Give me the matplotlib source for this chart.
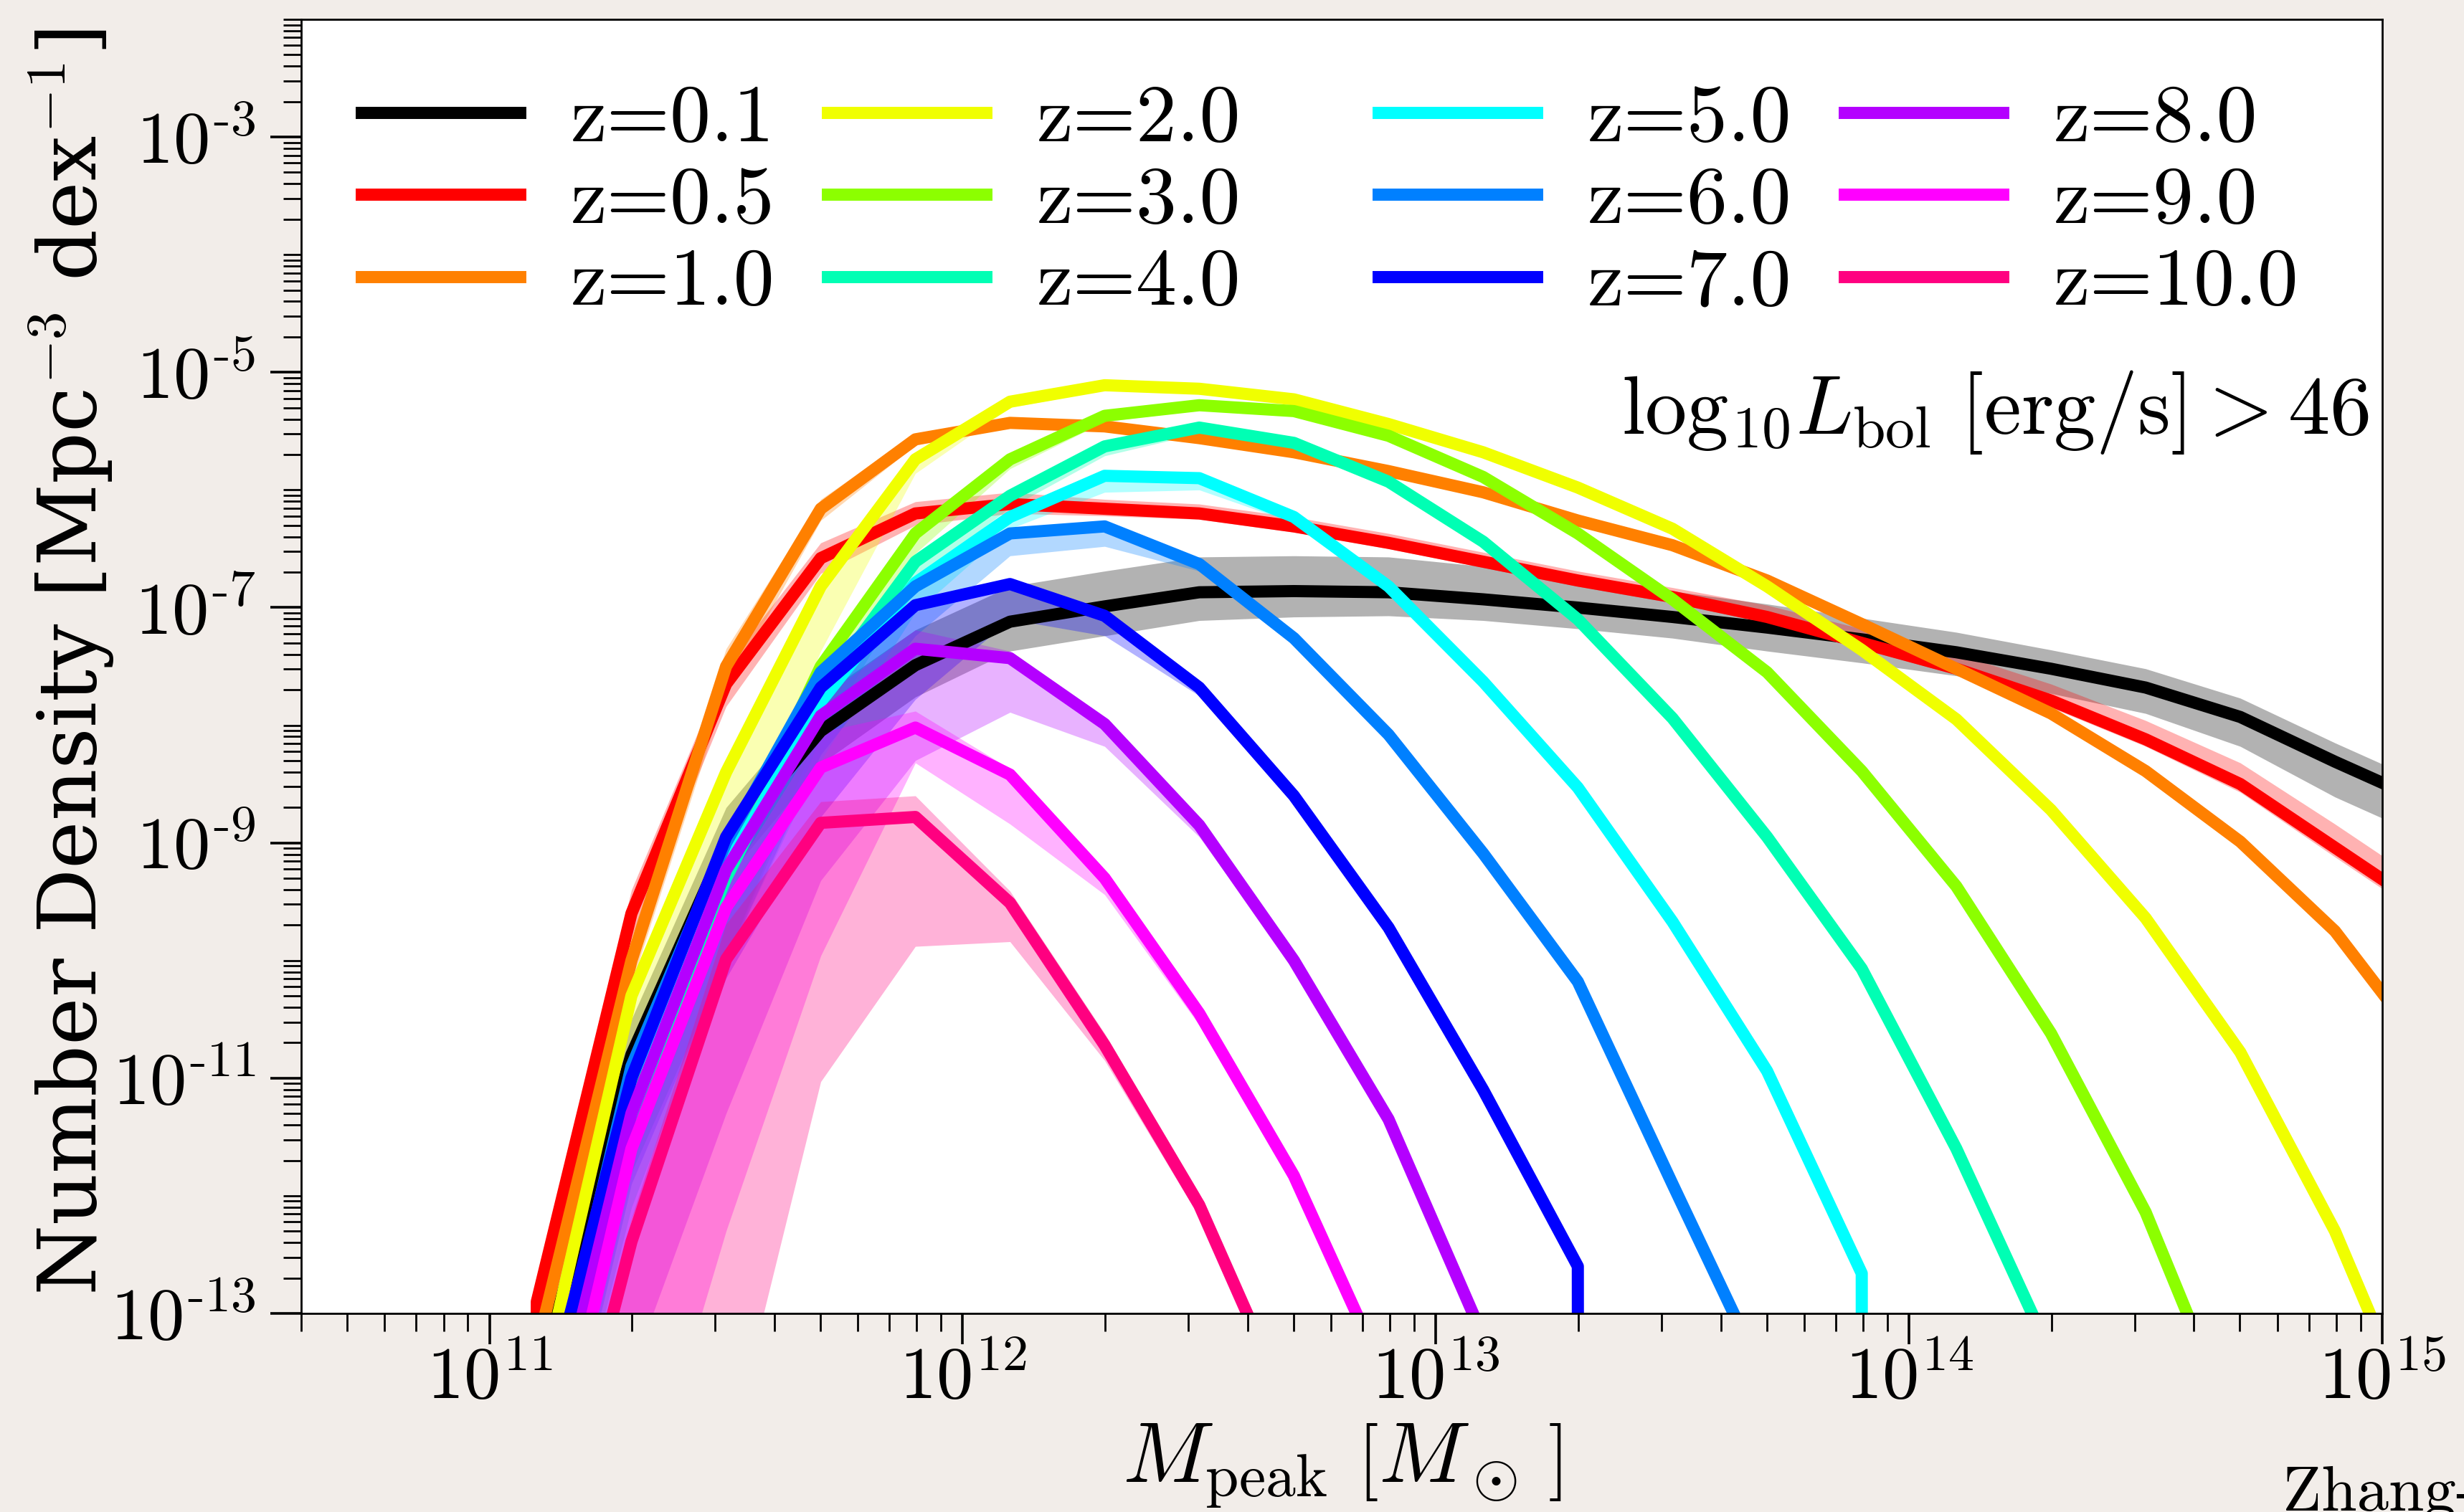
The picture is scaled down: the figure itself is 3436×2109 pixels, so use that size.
import numpy as np
import matplotlib
matplotlib.use('Agg')
import matplotlib.pyplot as plt
from matplotlib.ticker import FixedLocator, FixedFormatter, LogLocator, NullFormatter

plt.rcParams['mathtext.fontset'] = 'cm'
plt.rcParams['font.family'] = 'cmr10'
plt.rcParams['axes.unicode_minus'] = False
plt.rcParams['axes.formatter.use_mathtext'] = True

# ---------------- data (log10 number density; None = zero) ----------------
logM = [10.9, 11.1, 11.3, 11.5, 11.7, 11.9, 12.1, 12.3, 12.5, 12.7, 12.9,
        13.1, 13.3, 13.5, 13.7, 13.9, 14.1, 14.3, 14.5, 14.7, 14.9, 15.1]

labels = ['z=0.1', 'z=0.5', 'z=1.0', 'z=2.0', 'z=3.0', 'z=4.0',
          'z=5.0', 'z=6.0', 'z=7.0', 'z=8.0', 'z=9.0', 'z=10.0']

colors = ['#000000', '#ff0000', '#ff8000', '#f0ff00', '#8cff00', '#00ffb4',
          '#00ffff', '#0080ff', '#0000ff', '#b400ff', '#ff00ff', '#ff0080']

n_z01 = [None, -13.6, -10.8, -9.0, -8.05, -7.49, -7.12, -6.99, -6.87, -6.86, -6.87,
         -6.93, -7.00, -7.08, -7.17, -7.27, -7.38, -7.52, -7.68, -7.93, -8.31, -8.67]
n_z05 = [None, -12.9, -9.6, -7.65, -6.58, -6.20, -6.12, -6.16, -6.20, -6.31, -6.45,
         -6.61, -6.77, -6.91, -7.08, -7.30, -7.52, -7.79, -8.12, -8.50, -9.04, -9.58]
n_z1 = [None, -13.3, -10.0, -7.50, -6.16, -5.57, -5.43, -5.46, -5.56, -5.68, -5.84,
        -6.02, -6.26, -6.47, -6.77, -7.14, -7.52, -7.90, -8.39, -8.99, -9.75, -10.8]
n_z2 = [None, -13.8, -10.3, -8.40, -6.82, -5.74, -5.25, -5.11, -5.14, -5.23, -5.44,
        -5.68, -5.98, -6.33, -6.82, -7.36, -7.95, -8.72, -9.64, -10.78, -12.30, -14.2]
n_z3 = [None, -14.3, -11.0, -9.2, -7.5, -6.37, -5.74, -5.37, -5.28, -5.33, -5.54,
        -5.89, -6.37, -6.93, -7.55, -8.39, -9.37, -10.62, -12.14, -14.1, None, None]
n_z4 = [None, -14.5, -11.3, -9.3, -7.7, -6.61, -6.05, -5.63, -5.47, -5.60, -5.93,
        -6.44, -7.10, -7.94, -8.95, -10.07, -11.60, -13.35, None, None, None, None]
n_z5 = [None, -14.4, -11.0, -9.2, -7.8, -6.79, -6.23, -5.88, -5.90, -6.23, -6.82,
        -7.63, -8.53, -9.67, -10.94, -12.66, None, None, None, None, None, None]
n_z6 = [None, -14.3, -10.9, -9.0, -7.55, -6.82, -6.37, -6.31, -6.63, -7.26, -8.08,
        -9.09, -10.18, -11.9, -13.6, None, None, None, None, None, None, None]
n_z7 = [None, -14.1, -11.0, -8.95, -7.68, -6.98, -6.80, -7.07, -7.68, -8.60, -9.72,
        -11.1, -12.60, None, None, None, None, None, None, None, None, None]
n_z8 = [None, -14.6, -11.3, -9.23, -7.92, -7.35, -7.43, -7.99, -8.85, -10.0, -11.35,
        -13.2, None, None, None, None, None, None, None, None, None, None]
n_z9 = [None, -15.0, -11.6, -9.55, -8.36, -8.02, -8.42, -9.30, -10.45, -11.83, -13.6,
        None, None, None, None, None, None, None, None, None, None, None]
n_z10 = [None, -15.5, -12.39, -9.99, -8.83, -8.78, -9.51, -10.72, -12.08, -13.9, None,
         None, None, None, None, None, None, None, None, None, None, None]

# uncertainty band widths (dex) above / below each curve
up_z01 = [0, .3, .3, .3, .3, .3, .3, .3, .3, .3, .3, .28, .25, .22, .2, .18, .17, .16, .16, .16, .16, .16]
dn_z01 = [0, .35, .35, .3, .28, .27, .25, .25, .24, .22, .2, .18, .18, .18, .2, .2, .2, .21, .22, .25, .3, .3]
up_z05 = [0, .2, .2, .16, .13, .1, .1, .08, .08, .08, .08, .08, .08, .08, .1, .12, .13, .14, .16, .18, .2, .2]
dn_z05 = [0, .2, .2, .19, .13, .1, .08, .06, .05, .05, .05, .05, .05, .05, .05, .05, .05, .06, .06, .07, .08, .08]
up_z1 = [0, .2, .2, .15, .08, .05, .04, .03, .03, .03, .03, .03, .03, .03, .03, .03, .03, .03, .03, .03, .03, .03]
dn_z1 = [0, .2, .2, .2, .1, .05, .04, .03, .03, .03, .03, .03, .03, .03, .03, .03, .03, .03, .03, .03, .03, .03]
up_z2 = [0, .1, .1, .08, .06, .04, .03, .03, .02, .02, .02, .02, .02, .02, .02, .02, .02, .02, .02, .02, .02, .02]
dn_z2 = [0, .9, .9, .9, .55, .12, .05, .04, .03, .03, .03, .03, .03, .03, .03, .03, .03, .03, .03, .03, .03, .03]
up_z3 = [0, .06, .06, .06, .05, .04, .03, .03, .03, .03, .03, .03, .03, .03, .03, .03, .03, .03, .03, .03, 0, 0]
dn_z3 = [0, .8, .8, .8, .5, .17, .08, .05, .04, .04, .04, .04, .04, .04, .04, .04, .04, .04, .04, .04, 0, 0]
up_z4 = [0, .06, .06, .06, .05, .04, .04, .04, .04, .04, .04, .04, .04, .04, .04, .04, .04, .04, 0, 0, 0, 0]
dn_z4 = [0, .8, .8, .7, .4, .15, .1, .08, .05, .04, .04, .04, .04, .04, .04, .04, .04, .04, 0, 0, 0, 0]
up_z5 = [0, .06, .06, .06, .05, .05, .04, .04, .04, .04, .04, .04, .04, .04, .04, .04, 0, 0, 0, 0, 0, 0]
dn_z5 = [0, .8, .8, .8, .5, .25, .1, .14, .1, .05, .04, .04, .04, .04, .04, .04, 0, 0, 0, 0, 0, 0]
up_z6 = [0, .06, .06, .06, .06, .05, .05, .04, .04, .04, .04, .04, .04, .04, .04, 0, 0, 0, 0, 0, 0, 0]
dn_z6 = [0, 1.0, 1.0, 1.0, .7, .42, .19, .17, .06, .04, .04, .04, .04, .04, .04, 0, 0, 0, 0, 0, 0, 0]
up_z7 = [0, .1, .1, .1, .1, .05, .04, .03, .03, .03, .03, .03, .03, 0, 0, 0, 0, 0, 0, 0, 0, 0]
dn_z7 = [0, 1.2, 1.2, 1.2, 1.1, .8, .3, .17, .07, .05, .05, .05, .05, 0, 0, 0, 0, 0, 0, 0, 0, 0]
up_z8 = [0, .15, .15, .15, .15, .16, .06, .04, .04, .04, .04, .04, 0, 0, 0, 0, 0, 0, 0, 0, 0, 0]
dn_z8 = [0, 2.2, 2.2, 2.07, 1.4, .95, .46, .19, .1, .06, .05, .05, 0, 0, 0, 0, 0, 0, 0, 0, 0, 0]
up_z9 = [0, .2, .2, .2, .3, .14, .05, .05, .05, .05, .05, 0, 0, 0, 0, 0, 0, 0, 0, 0, 0, 0]
dn_z9 = [0, 3.4, 3.4, 2.75, 1.6, .3, .42, .14, .1, .06, .06, 0, 0, 0, 0, 0, 0, 0, 0, 0, 0, 0]
up_z10 = [0, .2, .2, .3, .18, .18, .1, .1, .1, .1, 0, 0, 0, 0, 0, 0, 0, 0, 0, 0, 0, 0]
dn_z10 = [0, 4.0, 4.0, 4.3, 2.2, 1.1, .33, .13, .1, .1, 0, 0, 0, 0, 0, 0, 0, 0, 0, 0, 0, 0]

series = [n_z01, n_z05, n_z1, n_z2, n_z3, n_z4, n_z5, n_z6, n_z7, n_z8, n_z9, n_z10]
ups = [up_z01, up_z05, up_z1, up_z2, up_z3, up_z4, up_z5, up_z6, up_z7, up_z8, up_z9, up_z10]
dns = [dn_z01, dn_z05, dn_z1, dn_z2, dn_z3, dn_z4, dn_z5, dn_z6, dn_z7, dn_z8, dn_z9, dn_z10]

ytick_exp = [-13, -11, -9, -7, -5, -3]
xtick_exp = [11, 12, 13, 14, 15]

# ---------------- figure ----------------
W, H, DPI = 3437, 2109, 200
fig = plt.figure(figsize=(W / DPI, H / DPI), dpi=DPI, facecolor='#f2ede9')
L, R, T, B = 420, 3322, 27, 1832
ax = fig.add_axes([L / W, 1 - B / H, (R - L) / W, (B - T) / H])
ax.set_facecolor('white')
ax.set_xscale('log')
ax.set_yscale('log')

M = 10 ** np.array(logM)
handles = []
for vals, up, dn, c, lab in zip(series, ups, dns, colors, labels):
    lg = np.array([np.nan if v is None else v for v in vals], dtype=float)
    n = np.where(np.isnan(lg), 0.0, 10 ** lg)
    lo = 10 ** (lg - np.array(dn))
    hi = 10 ** (lg + np.array(up))
    ax.fill_between(M, lo, hi, color=c, alpha=0.3, lw=0)
    h, = ax.plot(M, n, color=c, lw=6.1, label=lab)
    handles.append(h)

ax.set_xlim(4e10, 1e15)
ax.set_ylim(1e-13, 1e-2)

ax.yaxis.set_major_locator(FixedLocator([10.0 ** e for e in ytick_exp]))
ax.yaxis.set_major_formatter(FixedFormatter([r'$10^{\text{-%d}}$' % (-e) for e in ytick_exp]))
ax.yaxis.set_minor_locator(LogLocator(base=10, subs=np.arange(1, 10), numticks=100))
ax.yaxis.set_minor_formatter(NullFormatter())
ax.xaxis.set_major_locator(FixedLocator([10.0 ** e for e in xtick_exp]))
ax.xaxis.set_major_formatter(FixedFormatter([r'$10^{%d}$' % e for e in xtick_exp]))
ax.xaxis.set_minor_locator(LogLocator(base=10, subs=np.arange(2, 10), numticks=100))
ax.xaxis.set_minor_formatter(NullFormatter())

ax.tick_params(which='major', direction='out', length=15.5, width=1.3, labelsize=37)
ax.tick_params(axis='y', which='major', pad=7.5)
ax.tick_params(axis='x', which='major', pad=1)
ax.tick_params(which='minor', direction='out', length=9, width=1.0)
for s in ax.spines.values():
    s.set_linewidth(1.0)

ax.set_xlabel(r'$M_{\rm peak}\ \left[M_\odot\,\right]$', fontsize=43)
ax.xaxis.set_label_coords(0.5, -0.084)
ax.set_ylabel(r'Number Density [Mpc$^{-3}$ dex$^{-1}$]', family='DejaVu Serif', fontsize=40.5)
ax.yaxis.set_label_coords(-0.089, 0.503)

ax.text((3304 - L) / (R - L), 1 - (605 - T) / (B - T),
        r'$\mathrm{log}_{10}L_{\rm bol}\ [{\rm erg/s}] > 46$', transform=ax.transAxes,
        ha='right', va='baseline', fontsize=42)

leg_kw = dict(ncol=2, loc='upper left', frameon=False,
              prop={'family': 'cmr10', 'size': 41}, handlelength=1.94,
              handletextpad=0.62, columnspacing=0.65, labelspacing=0.11,
              borderpad=0, borderaxespad=0)
leg1 = ax.legend(handles[:6], labels[:6], bbox_to_anchor=((504 - L) / (R - L), 0.950), **leg_kw)
ax.add_artist(leg1)
leg2 = ax.legend(handles[6:], labels[6:], bbox_to_anchor=((1922 - L) / (R - L), 0.950), **leg_kw)

fig.text(3183 / W, 1 - 2045 / H, 'Zhang-', ha='left', va='top', fontsize=32, family='cmr10')

fig.savefig('out.png', dpi=DPI, facecolor=fig.get_facecolor())
